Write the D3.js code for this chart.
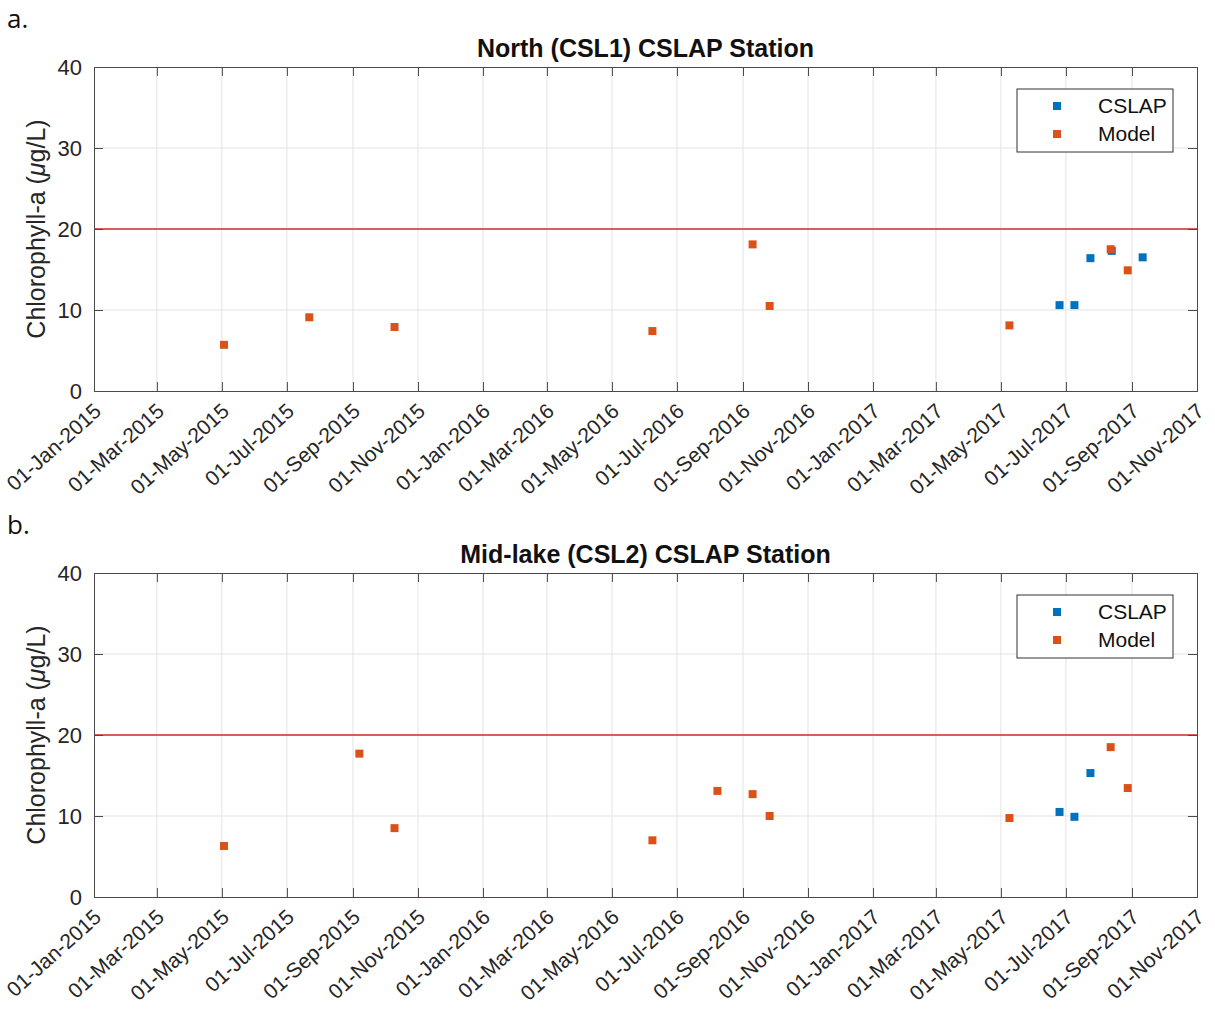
<!DOCTYPE html>
<html><head><meta charset="utf-8">
<script src="https://cdn.jsdelivr.net/npm/d3@7"></script>
<style>body{margin:0;background:#fff;} svg{display:block;}</style>
</head><body>
<svg id="chart" width="1215" height="1021"></svg>
<script>
// ---- data ----
const tickDates = ["2015-01-01","2015-03-01","2015-05-01","2015-07-01","2015-09-01","2015-11-01",
  "2016-01-01","2016-03-01","2016-05-01","2016-07-01","2016-09-01","2016-11-01",
  "2017-01-01","2017-03-01","2017-05-01","2017-07-01","2017-09-01","2017-11-01"];
const yTicks = [0, 10, 20, 30, 40];
const threshold = 20;

const northModelDates = ["2015-05-03","2015-07-22","2015-10-10","2016-06-08","2016-09-10","2016-09-26","2017-05-09","2017-08-12","2017-08-28"];
const northModel = [5.7, 9.1, 7.9, 7.4, 18.1, 10.5, 8.1, 17.5, 14.9];
const northCslapDates = ["2017-06-25","2017-07-09","2017-07-24","2017-08-13","2017-09-11"];
const northCslap = [10.6, 10.6, 16.4, 17.3, 16.5];

const midModelDates = ["2015-05-03","2015-09-07","2015-10-10","2016-06-08","2016-08-08","2016-09-10","2016-09-26","2017-05-09","2017-08-12","2017-08-28"];
const midModel = [6.3, 17.7, 8.5, 7.0, 13.1, 12.7, 10.0, 9.75, 18.5, 13.45];
const midCslapDates = ["2017-06-25","2017-07-09","2017-07-24"];
const midCslap = [10.5, 9.9, 15.3];

const panels = [
  {letter:"a.", title:"North (CSL1) CSLAP Station", top:67, cd:northCslapDates, cv:northCslap, md:northModelDates, mv:northModel},
  {letter:"b.", title:"Mid-lake (CSL2) CSLAP Station", top:573, cd:midCslapDates, cv:midCslap, md:midModelDates, mv:midModel}
];

const parse = d3.timeParse("%Y-%m-%d");
const fmt = d3.timeFormat("%d-%b-%Y");
const C_BLUE = "#0072BD", C_ORANGE = "#D95319", C_RED = "#d42a2a", AXC = "#4a4a4a";
const FONT = "'Liberation Sans', Arial, Helvetica, sans-serif";
const svg = d3.select("#chart");
const L = 94, R = 1197, H = 324;

const x = d3.scaleTime().domain([parse(tickDates[0]), parse(tickDates[tickDates.length-1])]).range([L, R]);

panels.forEach(p => {
  const y = d3.scaleLinear().domain([0, 40]).range([p.top + H, p.top]);
  const g = svg.append("g");
  const tv = tickDates.map(parse);

  // letter
  svg.append("text").attr("x", 7).attr("y", p.top - 39).attr("font-family", "'Open Sans', 'Noto Sans', sans-serif")
    .attr("font-size", 26).attr("fill", "#111").text(p.letter);
  // title
  svg.append("text").attr("x", (L + R) / 2).attr("y", p.top - 10).attr("text-anchor", "middle")
    .attr("font-family", FONT).attr("font-weight", "bold").attr("font-size", 25).attr("fill", "#111").text(p.title);

  // grid
  g.append("g").selectAll("line").data(tv.slice(1, -1)).join("line")
    .attr("x1", d => x(d)).attr("x2", d => x(d)).attr("y1", p.top).attr("y2", p.top + H)
    .attr("stroke", "#e3e3e3").attr("stroke-width", 1);
  g.append("g").selectAll("line").data(yTicks.slice(1, -1)).join("line")
    .attr("x1", L).attr("x2", R).attr("y1", d => y(d)).attr("y2", d => y(d))
    .attr("stroke", "#e3e3e3").attr("stroke-width", 1);

  // threshold line
  g.append("line").attr("x1", L).attr("x2", R).attr("y1", y(threshold)).attr("y2", y(threshold))
    .attr("stroke", C_RED).attr("stroke-width", 1.3);

  // axes (inward ticks)
  const xb = d3.axisBottom(x).tickValues(tv).tickSize(-9).tickFormat(fmt);
  const xaxis = g.append("g").attr("transform", `translate(0,${p.top + H})`).call(xb);
  xaxis.select(".domain").attr("stroke", AXC);
  xaxis.selectAll(".tick line").attr("stroke", AXC);
  xaxis.selectAll("text").attr("font-family", FONT).attr("font-size", 21).attr("fill", "#262626")
    .attr("text-anchor", "end").attr("dy", null).attr("y", 0)
    .attr("transform", "translate(8,22) rotate(-42)");
  const xt = d3.axisTop(x).tickValues(tv).tickSize(-9).tickFormat("");
  const xaxT = g.append("g").attr("transform", `translate(0,${p.top})`).call(xt);
  xaxT.select(".domain").attr("stroke", AXC);
  xaxT.selectAll(".tick line").attr("stroke", AXC);

  const yl = d3.axisLeft(y).tickValues(yTicks).tickSize(-9).tickPadding(12);
  const yaxis = g.append("g").attr("transform", `translate(${L},0)`).call(yl);
  yaxis.select(".domain").attr("stroke", AXC);
  yaxis.selectAll(".tick line").attr("stroke", AXC);
  yaxis.selectAll("text").attr("font-family", FONT).attr("font-size", 22).attr("fill", "#262626");
  const yr = d3.axisRight(y).tickValues(yTicks).tickSize(-9).tickFormat("");
  const yaxR = g.append("g").attr("transform", `translate(${R},0)`).call(yr);
  yaxR.select(".domain").attr("stroke", AXC);
  yaxR.selectAll(".tick line").attr("stroke", AXC);

  // y label
  const lab = svg.append("text").attr("transform", `translate(45,${p.top + H / 2}) rotate(-90)`)
    .attr("text-anchor", "middle").attr("font-family", FONT).attr("font-size", 25).attr("fill", "#262626");
  lab.append("tspan").text("Chlorophyll-a (");
  lab.append("tspan").attr("font-style", "italic").text("\u03bc");
  lab.append("tspan").text("g/L)");

  // markers
  const s = 8;
  g.append("g").selectAll("rect").data(p.cd.map((d, i) => [parse(d), p.cv[i]])).join("rect")
    .attr("x", d => x(d[0]) - s / 2).attr("y", d => y(d[1]) - s / 2).attr("width", s).attr("height", s)
    .attr("fill", C_BLUE);
  g.append("g").selectAll("rect").data(p.md.map((d, i) => [parse(d), p.mv[i]])).join("rect")
    .attr("x", d => x(d[0]) - s / 2).attr("y", d => y(d[1]) - s / 2).attr("width", s).attr("height", s)
    .attr("fill", C_ORANGE);

  // legend
  const lg = svg.append("g").attr("transform", `translate(1017,${p.top + 22})`);
  lg.append("rect").attr("width", 156).attr("height", 63).attr("fill", "#fff").attr("stroke", "#333").attr("stroke-width", 1);
  [["CSLAP", C_BLUE], ["Model", C_ORANGE]].forEach((it, i) => {
    lg.append("rect").attr("x", 40 - s / 2).attr("y", 17 + i * 28 - s / 2).attr("width", s).attr("height", s).attr("fill", it[1]);
    lg.append("text").attr("x", 81).attr("y", 17 + i * 28 + 7).attr("font-family", FONT).attr("font-size", 21)
      .attr("fill", "#111").text(it[0]);
  });
});
</script>
</body></html>
